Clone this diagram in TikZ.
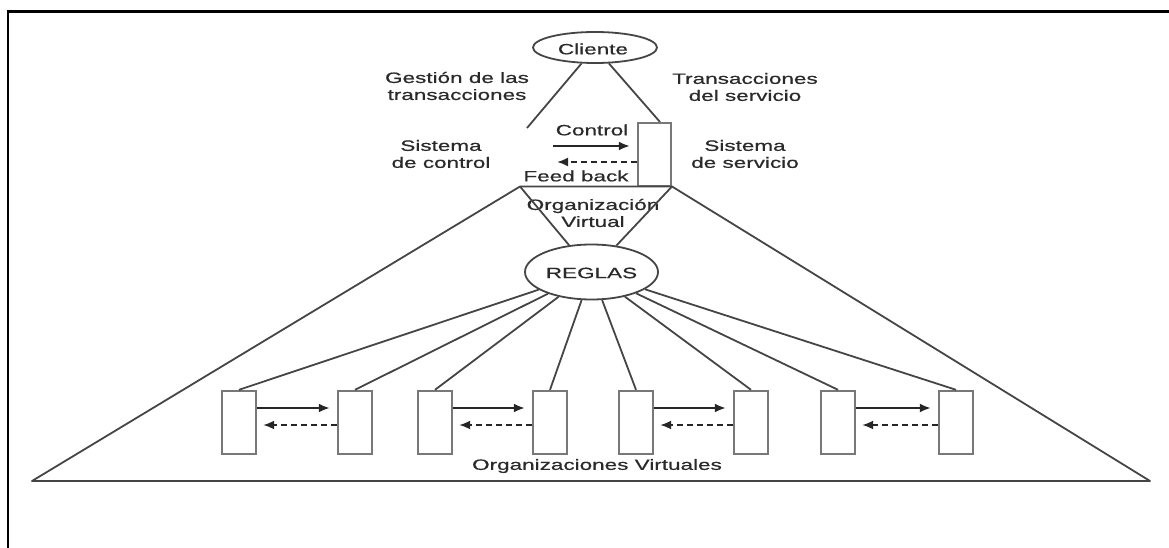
\documentclass[tikz,border=0pt]{standalone}
\usepackage{fontspec}
\setmainfont{Liberation Sans}[FakeStretch=1.5,FakeBold=0.6]
\usetikzlibrary{arrows.meta,shapes.geometric}
\definecolor{ink}{HTML}{2A2A2A}
\definecolor{linegray}{HTML}{454545}
\definecolor{boxgray}{HTML}{787878}
\begin{document}
\begin{tikzpicture}[x=1pt,y=-1pt,
  lbl/.style={text=ink,font=\fontsize{15}{17}\selectfont,align=center,inner sep=0pt},
  oval/.style={ellipse,draw=linegray,line width=1.8pt,inner sep=0pt},
  unit/.style={draw=boxgray,line width=2.4pt,minimum width=34pt,minimum height=63pt,inner sep=0pt},
  wire/.style={draw=linegray,line width=1.8pt},
  fwd/.style={draw=black!85,line width=2pt,-{Latex[length=11pt,width=9pt]}},
  back/.style={draw=black!85,line width=1.8pt,dash pattern=on 6pt off 4pt,-{Latex[length=11pt,width=9pt]}}]
\useasboundingbox (0,0) rectangle (1169,548);
% page frame
\draw[black,line width=2.6pt] (8,548) -- (8,11.5) -- (1169,11.5);

% client and the two lines from it
\node[oval,minimum width=124pt,minimum height=31pt] (cliente) at (595,47.5) {};
\node[lbl] (tcli) at (593,49) {Cliente};
\coordinate (gfree) at (527,128);
\coordinate (sfree) at (660,122);
\draw[wire] (cliente) -- (gfree);
\draw[wire] (cliente) -- (sfree);
\node[lbl] (tgest) at (457,86) {Gestión de las\\transacciones};
\node[lbl] (ttrans) at (745,87) {Transacciones\\del servicio};

% control / service systems
\node[unit,minimum width=33pt,minimum height=63pt] (serv) at (654.5,154.5) {};
\node[lbl] (tsc) at (441,154) {Sistema\\de control};
\node[lbl] (tss) at (745,154) {Sistema\\de servicio};
\node[lbl] (tcontrol) at (592,130) {Control};
\node[lbl] (tfeed) at (576,176) {Feed back};
\coordinate (cstart) at (553,146);
\draw[fwd] (cstart) -- ([xshift=-7pt]serv.west |- cstart);
\draw[back] (serv.west |- 0,162) -- (557,162);

% big triangle with the virtual organisation trapezoid
\coordinate (bl) at (32,481);
\coordinate (br) at (1150,481);
\coordinate (tl) at (520,186.5);
\coordinate (tr) at (672,186.5);
\draw[wire,line join=round] (bl) -- (tl) -- (tr) -- (br) -- cycle;
\node[lbl] (torg) at (593,213) {Organización\\Virtual};

% rules
\node[oval,minimum width=133pt,minimum height=55pt] (reglas) at (591.5,272) {};
\node[lbl] (treglas) at (591.5,273) {REGLAS};
\draw[wire] (tl) -- (reglas);
\draw[wire] (tr) -- (reglas);

% virtual organisations
\foreach \i/\x in {1/239,2/355,3/435,4/550,5/636,6/751,7/838,8/956}{
  \node[unit] (u\i) at (\x,422.5) {};
  \draw[wire] (reglas) -- (u\i.north);
}
\foreach \a/\b in {1/2,3/4,5/6,7/8}{
  \draw[fwd] (u\a.east |- 0,408) -- ([xshift=-7pt]u\b.west |- 0,408);
  \draw[back] (u\b.west |- 0,425) -- ([xshift=6pt]u\a.east |- 0,425);
}
\node[lbl] (tvo) at (597,466) {Organizaciones Virtuales};
\end{tikzpicture}
\end{document}
